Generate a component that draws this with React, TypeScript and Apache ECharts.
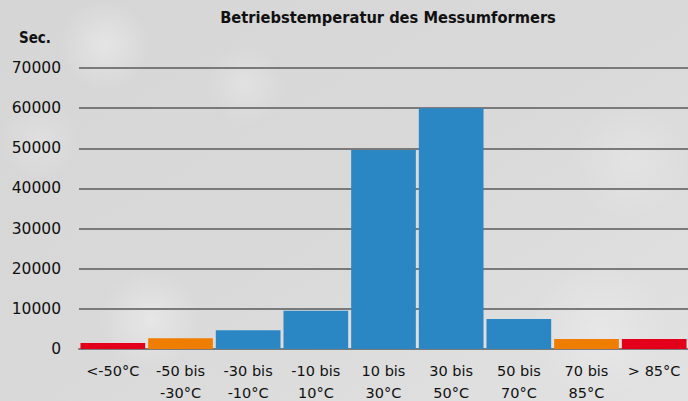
import React, { useEffect, useRef } from "react";
import * as echarts from "echarts";

const categories = ["<-50°C", "-50 bis\n-30°C", "-30 bis\n-10°C", "-10 bis\n10°C", "10 bis\n30°C", "30 bis\n50°C", "50 bis\n70°C", "70 bis\n85°C", "> 85°C"];
const values = [1500, 2700, 4700, 9500, 49600, 60000, 7500, 2500, 2500];
const barColors = ["#e2001a", "#ef7d00", "#2b87c4", "#2b87c4", "#2b87c4", "#2b87c4", "#2b87c4", "#ef7d00", "#e2001a"];
const titleText = "Betriebstemperatur des Messumformers";
const unitText = "Sec.";

export default function App() {
  const ref = useRef<HTMLDivElement>(null);
  useEffect(() => {
    if (!ref.current) return;
    const chart = echarts.init(ref.current, null, { renderer: "svg" });
    const glow = (cx: number, cy: number, r: number, o: number) => ({
      type: "circle",
      shape: { cx, cy, r },
      style: {
        fill: {
          type: "radial", x: 0.5, y: 0.5, r: 0.5,
          colorStops: [
            { offset: 0, color: "rgba(255,255,255," + o + ")" },
            { offset: 1, color: "rgba(255,255,255,0)" },
          ],
        },
      },
      silent: true,
      z: -10,
    });
    chart.setOption({
      animation: false,
      backgroundColor: {
        type: "linear", x: 0, y: 0, x2: 1, y2: 1,
        colorStops: [
          { offset: 0, color: "#d6d6d6" },
          { offset: 0.5, color: "#d9d9d9" },
          { offset: 1, color: "#e2e2e2" },
        ],
      },
      graphic: [
        glow(105, 45, 45, 0.35),
        glow(245, 85, 40, 0.25),
        glow(150, 320, 50, 0.35),
        glow(40, 140, 40, 0.2),
        glow(630, 160, 60, 0.2),
        glow(600, 330, 70, 0.25),
        {
          type: "text", left: 19, top: 30,
          style: { text: unitText, font: "bold 15px 'DejaVu Sans Condensed', 'DejaVu Sans'", fill: "#111" },
        },
      ],
      title: {
        text: titleText,
        left: 383,
        textAlign: "center",
        top: 4,
        textStyle: { fontFamily: "'DejaVu Sans Condensed', 'DejaVu Sans'", fontWeight: "bold", fontSize: 16.3, color: "#111" },
      },
      grid: { left: 79, right: 0, top: 68, bottom: 52, containLabel: false, outerBoundsMode: "none" },
      xAxis: {
        type: "category",
        data: categories,
        axisLine: { show: true, lineStyle: { color: "#7a7a7a", width: 2 } },
        axisTick: { show: false },
        axisLabel: {
          interval: 0, color: "#111", fontFamily: "DejaVu Sans", fontSize: 14.5, lineHeight: 22, margin: 11,
        },
      },
      yAxis: {
        type: "value",
        min: 0, max: 70000, interval: 10000,
        axisLine: { show: false },
        axisTick: { show: false },
        axisLabel: { color: "#111", fontFamily: "DejaVu Sans", fontSize: 15.5, margin: 18, formatter: (v: number) => String(v) },
        splitLine: { lineStyle: { color: "#7a7a7a", width: 2 } },
      },
      series: [{
        type: "bar",
        data: values.map((v, i) => ({ value: v, itemStyle: { color: barColors[i] } })),
        barCategoryGap: "4.4%",
        z: 1,
      }],
    });
    return () => chart.dispose();
  }, []);
  return <div ref={ref} style={{ width: 688, height: 401, position: "absolute", left: 0, top: 0 }} />;
}
